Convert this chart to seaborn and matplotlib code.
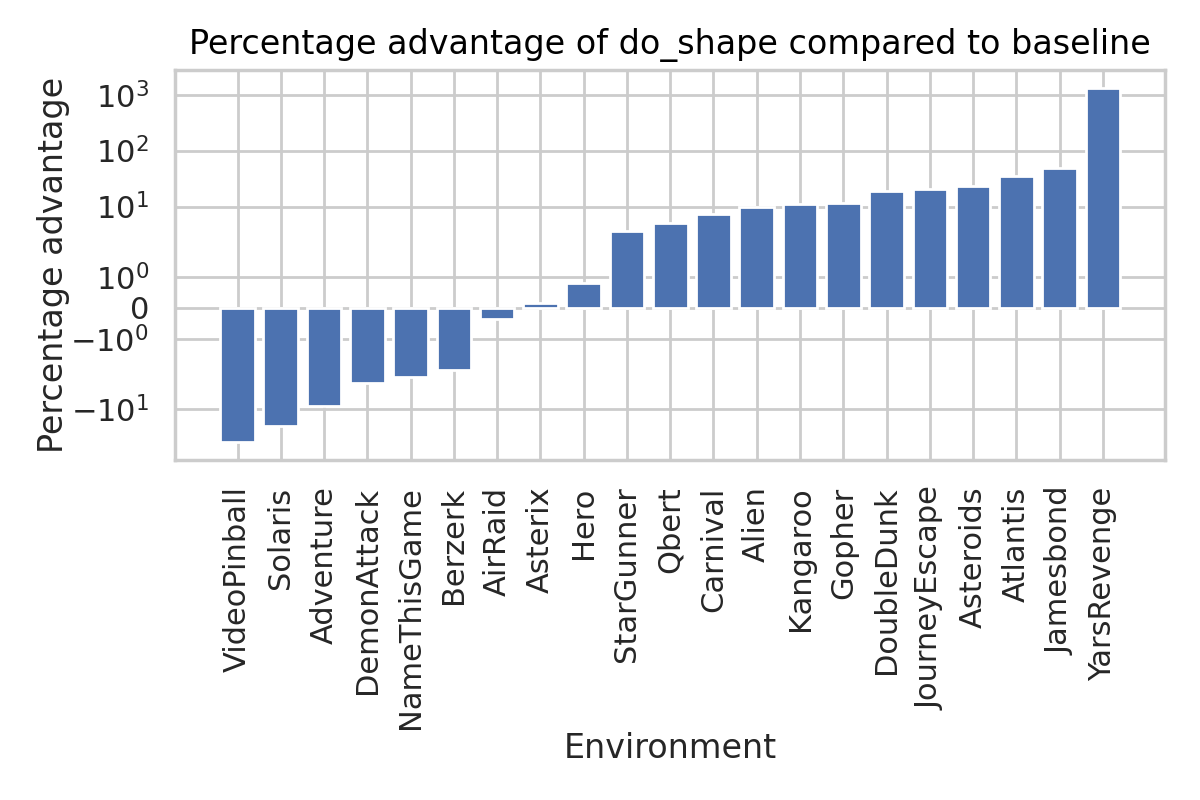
import matplotlib
matplotlib.use("Agg")
import matplotlib.pyplot as plt
import seaborn as sns

environments = [
    "VideoPinball", "Solaris", "Adventure", "DemonAttack", "NameThisGame",
    "Berzerk", "AirRaid", "Asterix", "Hero", "StarGunner", "Qbert",
    "Carnival", "Alien", "Kangaroo", "Gopher", "DoubleDunk", "JourneyEscape",
    "Asteroids", "Atlantis", "Jamesbond", "YarsRevenge",
]
advantage = [
    -39.5, -20.6, -9.0, -3.5, -2.7, -2.0, -0.36, 0.15, 0.78, 3.7, 5.0,
    7.3, 9.7, 11.0, 11.5, 18.9, 20.6, 23.3, 35.3, 49.2, 1310.0,
]

sns.set_theme(style="whitegrid")

fig, ax = plt.subplots(figsize=(6, 4), dpi=200)
sns.barplot(x=environments, y=advantage, color="#4c72b0", saturation=1,
            width=0.8, ax=ax)
ax.set_yscale("symlog")
ax.grid(True, axis="both")

# mimic matplotlib's default 5% margins instead of seaborn's category limits
n = len(environments)
pad = 0.05 * (n - 1 + 0.8)
ax.set_xlim(-0.4 - pad, n - 1 + 0.4 + pad)
ax.margins(y=0.05)
ax.autoscale_view(scalex=False)

ax.set_title("Percentage advantage of do_shape compared to baseline",
             color="black", fontsize=12)
ax.set_xlabel("Environment", labelpad=1)
ax.set_ylabel("Percentage advantage", labelpad=0)
ax.tick_params(axis="x", rotation=90)
fig.subplots_adjust(left=0.146, right=0.971, top=0.912, bottom=0.425)
plt.savefig("out.png")
